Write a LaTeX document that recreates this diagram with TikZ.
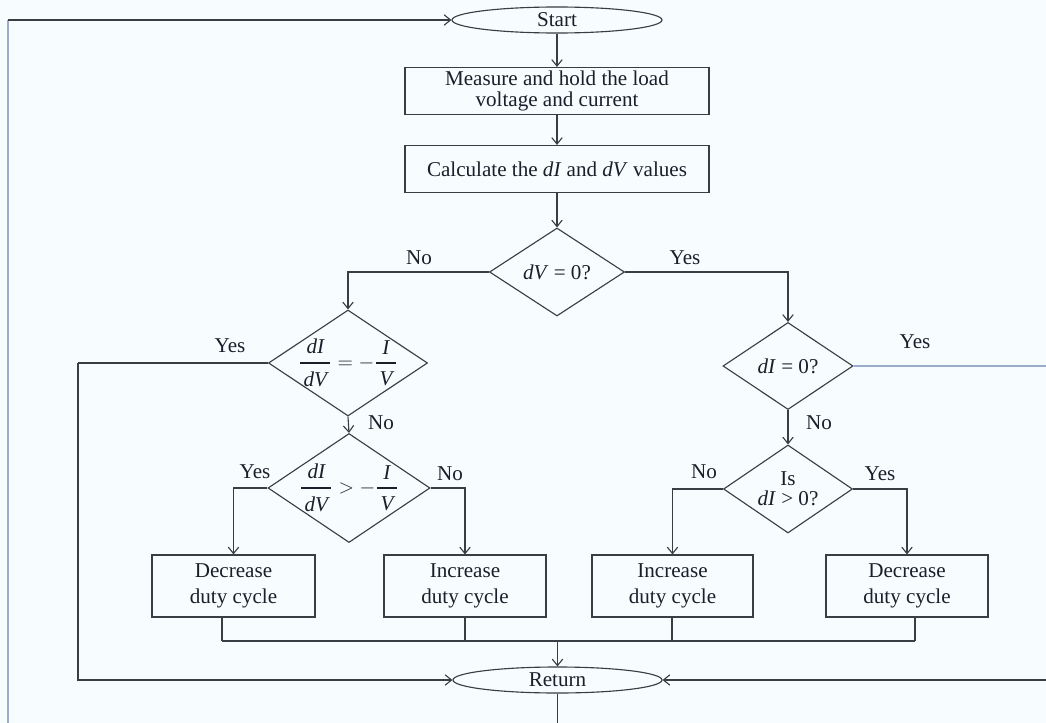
\documentclass[tikz,border=0pt]{standalone}
\usepackage{amsmath}
\usepackage{fontspec}
\setmainfont{Liberation Serif}
\usetikzlibrary{shapes.geometric,arrows.meta}
\definecolor{bgc}{HTML}{F7FCFE}
\definecolor{lnc}{HTML}{3A3D44}
\definecolor{blc}{HTML}{9AABCC}
\definecolor{txc}{HTML}{1C1E2A}
\newcommand{\thickfrac}[2]{\genfrac{}{}{1.8pt}{0}{\,#1\,}{\,#2\,}}
\tikzset{
  every node/.style={text=txc, font=\fontsize{15}{14}\selectfont},
  conn/.style={draw=lnc, line width=0.8pt},
  arr/.style={conn, -{Straight Barb[length=1.6mm,width=2.6mm]}},
  bconn/.style={draw=blc, line width=1pt},
  barr/.style={bconn, -{Straight Barb[length=1.6mm,width=2.6mm]}},
  term/.style={ellipse, draw=lnc, line width=0.8pt, minimum width=5.25cm, minimum height=0.65cm, inner sep=0pt},
  procbox/.style={rectangle, draw=lnc, line width=0.8pt, align=center, inner sep=0pt},
  decide/.style={diamond, draw=lnc, line width=0.8pt, inner sep=0pt},
  lbl/.style={inner sep=0pt}
}
\begin{document}
\begin{tikzpicture}[x=0.025cm, y=-0.025cm]
\fill[bgc] (0,0) rectangle (1046,723);
\useasboundingbox (0,0) rectangle (1046,723);

% terminals and boxes
\node[term] (start) at (557,20) {Start};
\node[procbox, minimum width=7.6cm, minimum height=1.175cm, font=\fontsize{15}{14.5}\selectfont] (meas) at (557,91) {Measure and hold the load\\voltage and current};
\node[procbox, minimum width=7.6cm, minimum height=1.175cm] (calc) at (557,169) {Calculate the \textit{dI} and \textit{dV} values};

% decisions
\node[decide, minimum width=3.375cm, minimum height=2.2cm, label={center:\textit{dV} = 0?}] (d1) at (557,272) {};
\node[decide, minimum width=3.975cm, minimum height=2.65cm,
  label={center:$\displaystyle\thickfrac{\textit{dI}}{\textit{dV}}=-\thickfrac{\textit{I}}{\textit{V}}$}] (d2) at (348,363) {};
\node[decide, minimum width=4.05cm, minimum height=2.725cm,
  label={center:$\displaystyle\thickfrac{\textit{dI}}{\textit{dV}}>-\thickfrac{\textit{I}}{\textit{V}}$}] (d3) at (349,488) {};
\node[decide, minimum width=3.25cm, minimum height=2.175cm, label={center:\textit{dI} = 0?}] (d4) at (788,366) {};
\node[decide, minimum width=3.225cm, minimum height=2.2cm,
  label={[align=center, font=\fontsize{15}{14}\selectfont]center:Is\\\textit{dI} > 0?}] (d5) at (788,489) {};

% action boxes
\node[procbox, minimum width=4.075cm, minimum height=1.55cm, font=\fontsize{15}{18}\selectfont] (ba) at (233.5,586) {Decrease\\duty cycle};
\node[procbox, minimum width=4.05cm, minimum height=1.55cm, font=\fontsize{15}{18}\selectfont] (bb) at (465,586) {Increase\\duty cycle};
\node[procbox, minimum width=4.025cm, minimum height=1.55cm, font=\fontsize{15}{18}\selectfont] (bc) at (672.5,586) {Increase\\duty cycle};
\node[procbox, minimum width=4.05cm, minimum height=1.55cm, font=\fontsize{15}{18}\selectfont] (bd) at (907,586) {Decrease\\duty cycle};

\node[term, minimum width=5.225cm] (ret) at (557.5,680) {Return};

% coordinates
\coordinate (lbot) at (8,723);
\coordinate (ltop) at (8,20);
\coordinate (lc) at (78,363);
\coordinate (rc1) at (1046,366);
\coordinate (rc2) at (1046,680);
\coordinate (ja) at (222,641);
\coordinate (jb) at (465,641);
\coordinate (jc) at (672,641);
\coordinate (jd) at (915,641);
\coordinate (jm) at (557.5,641);
\coordinate (rbot) at (557.5,723);

% main flow
\draw[arr] (start) -- (meas);
\draw[arr] (meas) -- (calc);
\draw[arr] (calc) -- (d1);
\draw[arr] (d1.west) -| (d2.north);
\draw[arr] (d1.east) -| (d4.north);
\draw[arr] (d2.south) -- (d3.north);
\draw[arr] (d3.west) -| (ba.north);
\draw[arr] (d3.east) -| (bb.north);
\draw[arr] (d4.south) -- (d5.north);
\draw[arr] (d5.west) -| (bc.north);
\draw[arr] (d5.east) -| (bd.north);

% collecting
\draw[conn] (ba.south -| ja) -- (ja);
\draw[conn] (bb.south -| jb) -- (jb);
\draw[conn] (bc.south -| jc) -- (jc);
\draw[conn] (bd.south -| jd) -- (jd);
\draw[conn] (ja) -- (jd);
\draw[arr] (jm) -- (ret.north);
\draw[conn] (ret.south) -- (rbot);

% loops
\draw[conn] (d2.west) -- (lc);
\draw[arr] (lc) |- (ret.west);
\draw[bconn] (d4.east) -- (rc1);
\draw[arr] (rc2) -- (ret.east);
\draw[bconn] (lbot) -- (ltop);
\draw[arr] (ltop) -- (start.west);

% labels
\node[lbl] (l1) at (419,258) {No};
\node[lbl] (l2) at (685,258) {Yes};
\node[lbl] (l3) at (230,346) {Yes};
\node[lbl] (l4) at (381,423) {No};
\node[lbl] (l5) at (255,472) {Yes};
\node[lbl] (l6) at (450,474) {No};
\node[lbl] (l7) at (915,342) {Yes};
\node[lbl] (l8) at (819,423) {No};
\node[lbl] (l9) at (704,472) {No};
\node[lbl] (l10) at (880,474) {Yes};
\end{tikzpicture}
\end{document}
